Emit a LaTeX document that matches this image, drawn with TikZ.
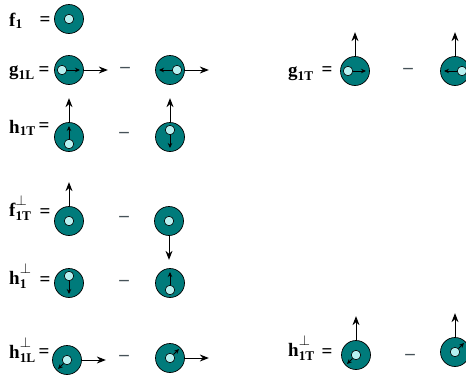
\documentclass[tikz,border=0pt]{standalone}
\usepackage{amsmath}
\usepackage{fontspec}
\setmainfont{Liberation Serif}
\usetikzlibrary{calc,arrows.meta}

\definecolor{nucteal}{RGB}{0,123,123}
\definecolor{quarkcyan}{RGB}{182,240,240}
\definecolor{minusgray}{RGB}{70,82,88}

% raised perp mark for the T-odd functions
\newcommand{\hiperp}{\raisebox{3pt}{$\scriptstyle\perp$}}

\begin{document}
\begin{tikzpicture}[x=1pt, y=-1pt,
  nucleon/.style={circle, draw=black, line width=0.7pt, fill=nucteal, minimum size=29pt, inner sep=0pt},
  quark/.style={circle, draw=black, line width=0.6pt, fill=quarkcyan, minimum size=9.5pt, inner sep=0pt},
  spin/.style={-{Stealth[length=5pt,width=4.5pt]}, line width=1pt},
  pol/.style={-{Stealth[length=9pt,width=7pt]}, line width=1pt},
  lbl/.style={anchor=base west, inner sep=0pt, font=\fontsize{19}{22}\selectfont\bfseries},
  eqsign/.style={anchor=base, inner sep=0pt, font=\fontsize{19}{22}\selectfont\bfseries},
  minus/.style={inner sep=0pt, text=minusgray, font=\fontsize{19}{22}\selectfont\bfseries}]

  \useasboundingbox (0,0) rectangle (466,378);

  % Parameters
  \def\qoff{7}    % quark offset from nucleon centre
  \def\sl{11}     % reach of the quark spin arrow
  \def\pl{24}     % length of the nucleon arrow

  % ---- f_1 ----
  \node[lbl] (f1) at (9,26) {$\textbf{f}_{\textbf{1}}$};
  \node[eqsign] (f1eq) at (45,25) {=};
  \node[nucleon] (f1a) at (69,19) {};
  \node[quark] (f1aq) at (f1a) {};

  % ---- g_1L ----
  \node[lbl] (g1L) at (9,75) {$\textbf{g}_{\textbf{1L}}$};
  \node[eqsign] (g1Leq) at (44,75) {=};
  \node[nucleon] (g1La) at (69,70) {};
  \node[quark] (g1Laq) at ($(g1La)+(-\qoff,0)$) {};
  \draw[spin] (g1Laq.east) -- ($(g1La)+(\sl,0)$);
  \draw[pol] (g1La.east) -- ++(\pl,0);
  \node[minus] (g1Lm) at (125,70) {–};
  \node[nucleon] (g1Lb) at (170,70) {};
  \node[quark] (g1Lbq) at ($(g1Lb)+(\qoff,0)$) {};
  \draw[spin] (g1Lbq.west) -- ($(g1Lb)+(-\sl,0)$);
  \draw[pol] (g1Lb.east) -- ++(\pl,0);

  % ---- g_1T ----
  \node[lbl] (g1T) at (288,76) {$\textbf{g}_{\textbf{1T}}$};
  \node[eqsign] (g1Teq) at (327,75) {=};
  \node[nucleon] (g1Ta) at (355,71) {};
  \node[quark] (g1Taq) at ($(g1Ta)+(-\qoff,0)$) {};
  \draw[spin] (g1Taq.east) -- ($(g1Ta)+(\sl,0)$);
  \draw[pol] (g1Ta.north) -- ++(0,-\pl);
  \node[minus] (g1Tm) at (408,71) {–};
  \node[nucleon] (g1Tb) at (455,71) {};
  \node[quark] (g1Tbq) at ($(g1Tb)+(\qoff,0)$) {};
  \draw[spin] (g1Tbq.west) -- ($(g1Tb)+(-\sl,0)$);
  \draw[pol] (g1Tb.north) -- ++(0,-\pl);

  % ---- h_1T ----
  \node[lbl] (h1T) at (9,133) {$\textbf{h}_{\textbf{1T}}$};
  \node[eqsign] (h1Teq) at (44,131) {=};
  \node[nucleon] (h1Ta) at (69,137) {};
  \node[quark] (h1Taq) at ($(h1Ta)+(0,\qoff)$) {};
  \draw[spin] (h1Taq.north) -- ($(h1Ta)+(0,-\sl)$);
  \draw[pol] (h1Ta.north) -- ++(0,-\pl);
  \node[minus] (h1Tm) at (124,135) {–};
  \node[nucleon] (h1Tb) at (170,137) {};
  \node[quark] (h1Tbq) at ($(h1Tb)+(0,-\qoff)$) {};
  \draw[spin] (h1Tbq.south) -- ($(h1Tb)+(0,\sl)$);
  \draw[pol] (h1Tb.north) -- ++(0,-\pl);

  % ---- f_1T^perp ----
  \node[lbl] (f1Tp) at (9,216) {$\textbf{f}^{\hiperp}_{\textbf{1T}}$};
  \node[eqsign] (f1Tpeq) at (45,217) {=};
  \node[nucleon] (f1Tpa) at (69,221) {};
  \node[quark] (f1Tpaq) at (f1Tpa) {};
  \draw[pol] (f1Tpa.north) -- ++(0,-\pl);
  \node[minus] (f1Tpm) at (124,219) {–};
  \node[nucleon] (f1Tpb) at (169,221) {};
  \node[quark] (f1Tpbq) at (f1Tpb) {};
  \draw[pol] (f1Tpb.south) -- ++(0,\pl);

  % ---- h_1^perp ----
  \node[lbl] (h1p) at (9,284) {$\textbf{h}^{\hiperp}_{\textbf{1}}$};
  \node[eqsign] (h1peq) at (45,285) {=};
  \node[nucleon] (h1pa) at (69,283) {};
  \node[quark] (h1paq) at ($(h1pa)+(0,-\qoff)$) {};
  \draw[spin] (h1paq.south) -- ($(h1pa)+(0,\sl)$);
  \node[minus] (h1pm) at (124,283) {–};
  \node[nucleon] (h1pb) at (170,283) {};
  \node[quark] (h1pbq) at ($(h1pb)+(0,\qoff)$) {};
  \draw[spin] (h1pbq.north) -- ($(h1pb)+(0,-\sl)$);

  % ---- h_1L^perp ----
  \node[lbl] (h1Lp) at (9,358) {$\textbf{h}^{\hiperp}_{\textbf{1L}}$};
  \node[eqsign] (h1Lpeq) at (44,357) {=};
  \node[nucleon] (h1Lpa) at (67,360) {};
  \node[quark] (h1Lpaq) at (h1Lpa) {};
  \draw[spin] (h1Lpaq.south west) -- ($(h1Lpa)+(-9,9)$);
  \draw[pol] (h1Lpa.east) -- ++(\pl,0);
  \node[minus] (h1Lpm) at (124,358) {–};
  \node[nucleon] (h1Lpb) at (170,358) {};
  \node[quark] (h1Lpbq) at (h1Lpb) {};
  \draw[spin] (h1Lpbq.north east) -- ($(h1Lpb)+(9,-9)$);
  \draw[pol] (h1Lpb.east) -- ++(\pl,0);

  % ---- h_1T^perp ----
  \node[lbl] (h1Tp) at (288,356) {$\textbf{h}^{\hiperp}_{\textbf{1T}}$};
  \node[eqsign] (h1Tpeq) at (327,357) {=};
  \node[nucleon] (h1Tpa) at (356,355) {};
  \node[quark] (h1Tpaq) at (h1Tpa) {};
  \draw[spin] (h1Tpaq.south west) -- ($(h1Tpa)+(-9,9)$);
  \draw[pol] (h1Tpa.north) -- ++(0,-\pl);
  \node[minus] (h1Tpm) at (410,357) {–};
  \node[nucleon] (h1Tpb) at (455,352) {};
  \node[quark] (h1Tpbq) at (h1Tpb) {};
  \draw[spin] (h1Tpbq.north east) -- ($(h1Tpb)+(9,-9)$);
  \draw[pol] (h1Tpb.north) -- ++(0,-\pl);

\end{tikzpicture}
\end{document}
